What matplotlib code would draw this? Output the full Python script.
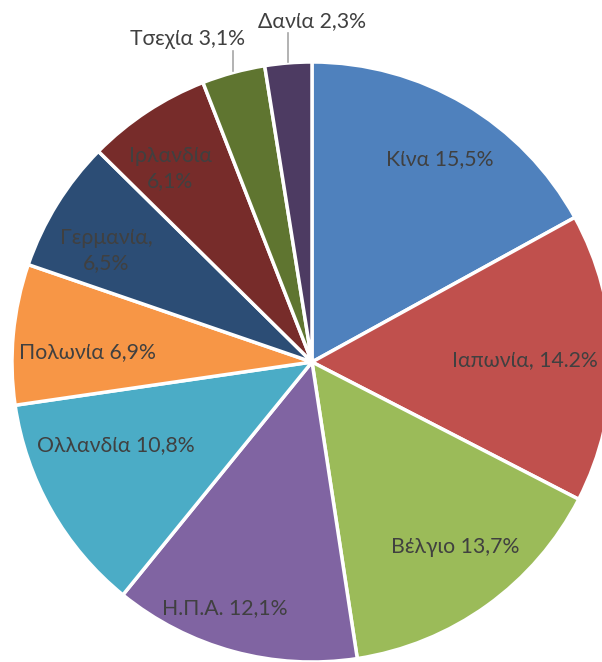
import numpy as np
import matplotlib
matplotlib.use('Agg')
import matplotlib.pyplot as plt

# export shares by country
countries = ['Κίνα', 'Ιαπωνία', 'Βέλγιο', 'Η.Π.Α.', 'Ολλανδία',
             'Πολωνία', 'Γερμανία', 'Ιρλανδία', 'Τσεχία', 'Δανία']
shares = [15.5, 14.2, 13.7, 12.1, 10.8, 6.9, 6.5, 6.1, 3.1, 2.3]
labels = ['Κίνα 15,5%', 'Ιαπωνία, 14.2%', 'Βέλγιο 13,7%', 'Η.Π.Α. 12,1%',
          'Ολλανδία 10,8%', 'Πολωνία 6,9%', 'Γερμανία,\n6,5%', 'Ιρλανδία\n6,1%',
          'Τσεχία 3,1%', 'Δανία 2,3%']
colors = ['#4F81BD', '#C0504D', '#9BBB59', '#8064A2', '#4BACC6',
          '#F79646', '#2C4D75', '#772C2A', '#5F7530', '#4D3B62']

# label placement: (polar angle in degrees, radius fraction); None -> outside label
inside_pos = [(57.8, 0.80), (0.5, 0.71), (-52.4, 0.78), (-109.5, 0.87),
              (-157.0, 0.71), (177.5, 0.75), (151.6, 0.78), (126.2, 0.80),
              None, None]
# outside labels: text offset (dx, dy) in pixels from pie edge point
outside_text = {8: (-46, 33), 9: (24, 42)}

plt.rcParams['font.family'] = ['Lato', 'DejaVu Sans']

fig = plt.figure(figsize=(6.02, 6.62), dpi=100)
ax = fig.add_axes([0, 0, 1, 1])

cx, cy, R = 312, 300, 300
wedges, _ = ax.pie(shares, colors=colors, startangle=90, counterclock=False,
                   center=(cx, cy), radius=R, frame=True,
                   wedgeprops=dict(edgecolor='white', linewidth=2.5))
ax.set_xlim(0, 602)
ax.set_ylim(0, 662)
ax.set_aspect('equal')
ax.axis('off')

txt_color = '#404040'
for i, w in enumerate(wedges):
    if inside_pos[i] is not None:
        ang, rf = inside_pos[i]
        x = cx + rf * R * np.cos(np.radians(ang))
        y = cy + rf * R * np.sin(np.radians(ang))
        ax.text(x, y, labels[i], ha='center', va='center', fontsize=15.3,
                color=txt_color, linespacing=1.35)
    else:
        mid = np.radians((w.theta1 + w.theta2) / 2)
        ex = cx + R * np.cos(mid)
        ey = cy + R * np.sin(mid)
        dx, dy = outside_text[i]
        ax.plot([ex, ex], [ey + 1, ey + dy - 12], color='#A6A6A6', lw=1.2)
        ax.text(ex + dx, ey + dy, labels[i], ha='center', va='center',
                fontsize=15.3, color=txt_color)

fig.savefig('out.png', dpi=100)
